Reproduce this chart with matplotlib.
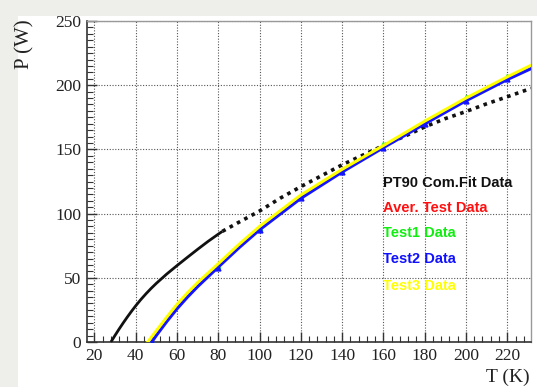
import matplotlib
matplotlib.use("Agg")
import matplotlib.pyplot as plt
from matplotlib.patches import Rectangle
from matplotlib.ticker import MultipleLocator

plt.rcParams["font.family"] = ["Liberation Serif", "DejaVu Serif"]

# PT90 combined fit (solid part, then dotted extrapolation)
fit_T_solid = [28, 30, 32, 34, 36, 38, 40, 42.5, 45, 47.5, 50, 55, 60, 65, 70, 75, 80, 82]
fit_P_solid = [0, 5.2, 10.2, 15.0, 19.6, 24.0, 28.2, 33.1, 37.6, 41.8, 45.7, 52.9, 59.5, 65.9, 72.2, 78.3, 84, 86.2]
fit_T_dot = [82, 90, 100, 110, 120, 130, 140, 150, 160, 170, 180, 190, 200, 210, 220, 231.5]
fit_P_dot = [86.2, 93.3, 102, 112, 121, 129.5, 138, 145.5, 153, 160, 167.5, 174, 179.5, 185.5, 191, 197.5]

# Test2 (blue) curve
t2_T = [47.7, 50, 55, 60, 65, 70, 80, 90, 100, 120, 140, 160, 180, 200, 220, 231.5]
t2_P = [0, 5.3, 16, 26, 35, 43.3, 58.5, 73.5, 87.5, 112, 132.5, 151.5, 170, 188, 204.5, 213]

# Test3 (yellow) curve
t3_T = [45.8, 50, 55, 60, 65, 70, 80, 90, 100, 120, 140, 160, 180, 200, 220, 231.5]
t3_P = [0, 8.8, 19.3, 29.3, 38.2, 46.3, 61, 76, 90, 114.5, 134.5, 153, 172, 190, 206.5, 215.5]

# measured points
pts_T = [48, 80, 100, 120, 140, 160, 180, 200, 220]
t1_P = [0, 59, 88.5, 113.5, 134, 154, 172.5, 190.5, 207]
t2_pts = [0, 58, 87, 112, 132.5, 151, 170, 188, 204.5]

legend_labels = ["PT90 Com.Fit Data", "Aver. Test Data", "Test1 Data", "Test2 Data", "Test3 Data"]
legend_colors = ["#111111", "#ff1010", "#10ee10", "#1010ff", "#ffff00"]

fig = plt.figure(figsize=(5.37, 3.87), dpi=100)
fig.patch.set_facecolor("#eeeeea")
fig.patches.append(Rectangle((18 / 537, 0), 1, 1 - 16 / 387, transform=fig.transFigure,
                             facecolor="white", edgecolor="none", zorder=-10))

ax = fig.add_axes([87 / 537, 1 - 342 / 387, (531 - 87) / 537, (342 - 21) / 387])
ax.set_zorder(1)
ax.set_facecolor("white")
ax.set_xlim(16.4, 231.5)
ax.set_ylim(0, 250)

ax.xaxis.set_major_locator(MultipleLocator(20))
ax.xaxis.set_minor_locator(MultipleLocator(4))
ax.yaxis.set_major_locator(MultipleLocator(50))
ax.yaxis.set_minor_locator(MultipleLocator(5))
ax.grid(True, which="major", color="#555555", linestyle=(0, (1, 1.5)), linewidth=0.8)
ax.tick_params(which="both", direction="in", top=False, right=False, color="#333333",
               labelsize=12.5, labelcolor="#222222")
ax.tick_params(which="major", length=7, width=1)
ax.tick_params(which="minor", length=4, width=0.8)
ax.tick_params(axis="x", pad=4)
ax.tick_params(axis="y", pad=4)
for s in ["left", "bottom"]:
    ax.spines[s].set_color("#333333")
    ax.spines[s].set_linewidth(1.2)
for s in ["top", "right"]:
    ax.spines[s].set_color("#999999")
    ax.spines[s].set_linewidth(1.0)

ax.plot(fit_T_solid, fit_P_solid, color="#111111", lw=2.0, solid_capstyle="butt", zorder=3)
ax.plot(fit_T_dot, fit_P_dot, color="#111111", lw=2.6, linestyle=(0, (1, 1.3)), zorder=3)
ax.plot(t2_T, t2_P, color="#1414ff", lw=2.4, zorder=4)
ax.plot(pts_T, t2_pts, linestyle="none", marker="^", ms=3.5, color="#1414ff", zorder=4)
ax.plot(pts_T, t1_P, linestyle="none", marker="^", ms=3, color="#22ee22", zorder=3.5)
ax.plot(t3_T, t3_P, color="#ffff00", lw=2.2, zorder=5)

ys = [123.7, 104.5, 85, 64.7, 44]
for lbl, col, yv in zip(legend_labels, legend_colors, ys):
    ax.text(160, yv, lbl, color=col, fontsize=10.5, fontweight="bold",
            family="Liberation Sans", ha="left", va="center", zorder=6)

fig.text(25 / 537, 1 - 19 / 387, "P (W)", rotation=90, ha="center", va="top",
         fontsize=15, color="#222222")
fig.text(530 / 537, 1 - 377 / 387, "T (K)", ha="right", va="center",
         fontsize=14, color="#222222")

fig.savefig("out.png", dpi=100, facecolor=fig.get_facecolor())
